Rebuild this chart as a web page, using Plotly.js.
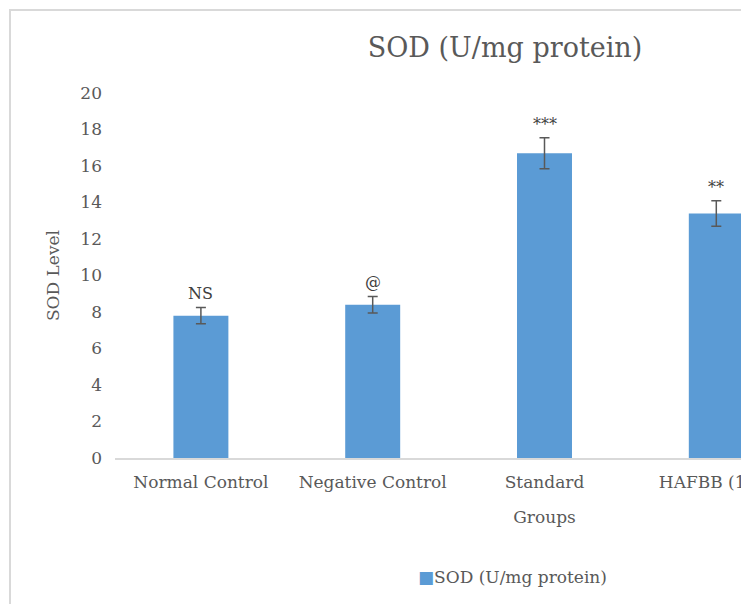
<!DOCTYPE html>
<html>
<head>
<meta charset="utf-8">
<script src="https://cdn.plot.ly/plotly-3.0.1.min.js"></script>
<style>
html, body { margin: 0; padding: 0; overflow: hidden; background: #ffffff; width: 741px; height: 604px; }
#chart { position: absolute; left: 9px; top: 9px; width: 992px; height: 620px; border: 2px solid #d9d9d9; box-sizing: border-box; background: #fff; }
</style>
</head>
<body>
<div id="chart"></div>
<script>
var categories = ["Normal Control", "Negative Control", "Standard", "HAFBB (100)"];
var sodValues = [7.8, 8.4, 16.7, 13.4];
var sodErrors = [0.45, 0.45, 0.85, 0.7];
var significance = ["NS", "@", "***", "**"];
var yTicks = [0, 2, 4, 6, 8, 10, 12, 14, 16, 18, 20];
var seriesName = "SOD (U/mg protein)";

var FONT = "DejaVu Serif, Liberation Serif, serif";
var TXT = "#595959";
var BLUE = "#5b9bd5";

var trace = {
  type: "bar",
  x: categories,
  y: sodValues,
  name: seriesName,
  width: 0.32,
  marker: { color: BLUE, line: { width: 0 } },
  error_y: { type: "data", array: sodErrors, visible: true, color: "#595959", thickness: 1.5, width: 5 },
  hoverinfo: "none",
  showlegend: false
};

var annotations = categories.map(function (c, i) {
  return {
    x: c, y: sodValues[i] + sodErrors[i], xref: "x", yref: "y",
    text: significance[i], showarrow: false, yanchor: "bottom", yshift: 2,
    font: { family: FONT, size: 16, color: "#404040" }
  };
});
annotations.push({
  xref: "paper", yref: "paper", x: 0.463, y: -0.326, xanchor: "center", yanchor: "middle",
  showarrow: false,
  text: "<span style='color:" + BLUE + "'>■</span>" + seriesName,
  font: { family: FONT, size: 17, color: TXT }
});

var layout = {
  width: 988, height: 616,
  margin: { l: 104, r: 25, t: 82, b: 169 },
  paper_bgcolor: "#ffffff", plot_bgcolor: "#ffffff",
  title: { text: seriesName, x: 0.5, xref: "container", xanchor: "center", y: 0.94, yref: "container", yanchor: "middle",
    font: { family: FONT, size: 27, color: TXT } },
  showlegend: false,
  xaxis: {
    type: "category", range: [-0.5, 4.5], showgrid: false, zeroline: false,
    showline: true, linecolor: "#d9d9d9", linewidth: 2, ticks: "",
    ticklabelstandoff: 8,
    tickfont: { family: FONT, size: 17, color: TXT },
    title: { text: "Groups", font: { family: FONT, size: 17, color: TXT }, standoff: 20 }
  },
  yaxis: {
    range: [0, 20], tickvals: yTicks, showgrid: false, zeroline: false, showline: false, ticks: "",
    ticklabelstandoff: 12,
    tickfont: { family: FONT, size: 17, color: TXT },
    title: { text: "SOD Level", font: { family: FONT, size: 17, color: TXT }, standoff: 16 }
  },
  annotations: annotations,
  bargap: 0.68
};

Plotly.newPlot("chart", [trace], layout, { displayModeBar: false, staticPlot: true });
</script>
</body>
</html>
